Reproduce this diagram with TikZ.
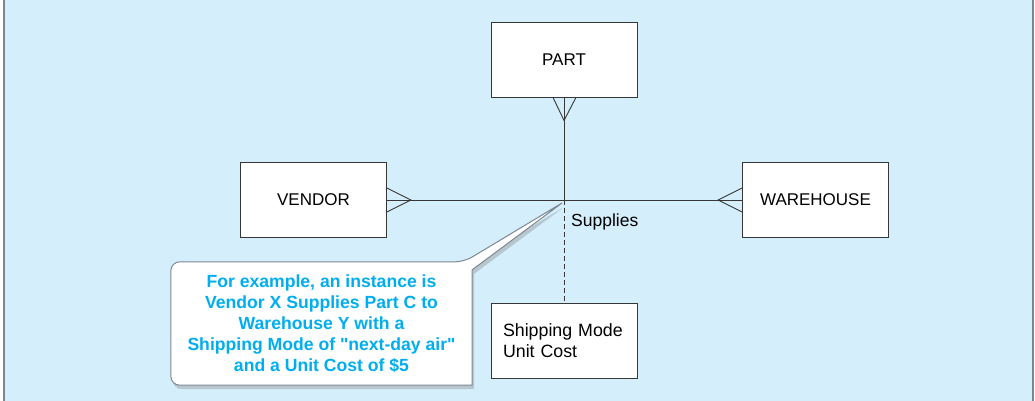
\documentclass[tikz,border=0pt]{standalone}
\usepackage{fontspec}
\setmainfont[Ligatures=TeXOff]{Liberation Sans}
\usetikzlibrary{calc,positioning,shadows,backgrounds}
\definecolor{fond}{RGB}{213,238,251}
\definecolor{trait}{RGB}{55,55,55}
\definecolor{bord}{RGB}{125,135,145}
\definecolor{cyantxt}{RGB}{0,174,239}
\tikzset{
    entite/.style={draw=trait, fill=white, line width=0.9pt, minimum width=146pt, minimum height=75pt, font=\fontsize{17}{21}\selectfont},
    lien/.style={draw=trait, line width=0.9pt},
    bulle/.style={draw=bord, fill=white, line width=1pt, rounded corners=9pt,
      drop shadow={opacity=0.35, shadow xshift=2pt, shadow yshift=-4pt}},
  }

\begin{document}
\begin{tikzpicture}[x=1pt,y=-1pt]
				  \useasboundingbox (0,0) rectangle (1035,401);
				  %ENTITES
				  \node[entite] (part) at (564,59.5) {PART};
				  \node[entite] (vendor) at (313.5,200) {VENDOR};
				  \node[entite] (warehouse) at (815.5,200) {WAREHOUSE};
				  \node[entite, text width=122pt, inner xsep=12pt, align=left, font=\fontsize{17.8}{21}\selectfont] (attr) at (564,340.5) {Shipping Mode\\Unit Cost};
				  %association
				  \coordinate (hub) at (part.south |- vendor.east);
				  \draw[lien] (vendor.east) -- (warehouse.west);
				  \draw[lien] (part.south) -- (hub);
				  \draw[lien, dash pattern=on 5pt off 3pt] (hub) -- (attr.north);
				  \node[anchor=west, inner sep=0pt, font=\fontsize{17.5}{21}\selectfont] (supplies) at ($(hub)+(7,22)$) {Supplies};
				  %pattes
				  \coordinate (pfoot) at ($(part.south)+(0,23)$);
				  \draw[lien] ($(part.south)+(-11,0)$) -- (pfoot) -- ($(part.south)+(12,0)$);
				  \coordinate (vfoot) at ($(vendor.east)+(24,0)$);
				  \draw[lien] ($(vendor.east)+(0,-12)$) -- (vfoot) -- ($(vendor.east)+(0,12)$);
				  \coordinate (wfoot) at ($(warehouse.west)+(-24,0)$);
				  \draw[lien] ($(warehouse.west)+(0,-12)$) -- (wfoot) -- ($(warehouse.west)+(0,12)$);
				  %BULLE
				  \node[font=\bfseries\fontsize{17.6}{21}\selectfont, text=cyantxt, align=center, minimum width=301pt, minimum height=123pt] (note) at (321.5,323.5) {For example, an instance is\\Vendor X Supplies Part C to\\Warehouse Y with a\\Shipping Mode of "next-day air"\\and a Unit Cost of \$5};
				  \coordinate (tip) at ($(hub)+(-2,3)$);
				  \begin{pgfonlayer}{background}
				  \fill[fond] (5,0) rectangle (1032,401);
				  \draw[bord, line width=2pt] (4,0) -- (4,401);
				  \draw[bord, line width=2pt] (1033,0) -- (1033,401);
				  \draw[bulle] (note.north west) -- ($(note.north east)+(-8,0)$) [sharp corners] -- (tip) -- ($(note.north east)+(0,8)$) -- (note.south east) [rounded corners=9pt] -- (note.south west) -- cycle;
				  \end{pgfonlayer}
				  \end{tikzpicture}
\end{document}
